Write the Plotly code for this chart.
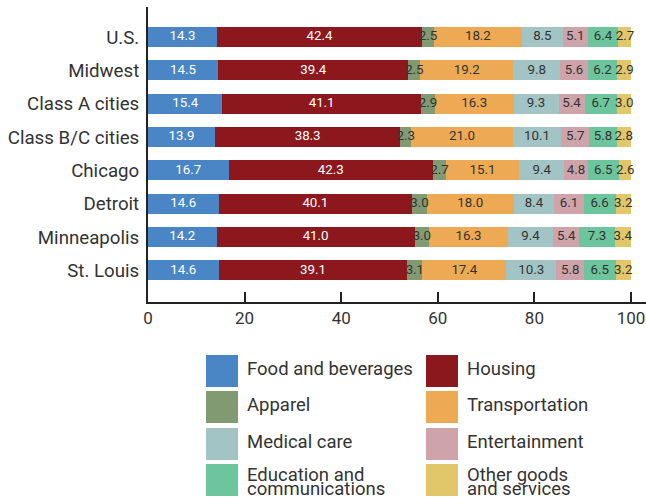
import plotly.graph_objects as go

regions = ["U.S.", "Midwest", "Class A cities", "Class B/C cities",
           "Chicago", "Detroit", "Minneapolis", "St. Louis"]

series_names = ["Food and beverages", "Housing", "Apparel", "Transportation",
                "Medical care", "Entertainment", "Education and\ncommunications",
                "Other goods\nand services"]

food = [14.3, 14.5, 15.4, 13.9, 16.7, 14.6, 14.2, 14.6]
housing = [42.4, 39.4, 41.1, 38.3, 42.3, 40.1, 41.0, 39.1]
apparel = [2.5, 2.5, 2.9, 2.3, 2.7, 3.0, 3.0, 3.1]
transportation = [18.2, 19.2, 16.3, 21.0, 15.1, 18.0, 16.3, 17.4]
medical = [8.5, 9.8, 9.3, 10.1, 9.4, 8.4, 9.4, 10.3]
entertainment = [5.1, 5.6, 5.4, 5.7, 4.8, 6.1, 5.4, 5.8]
education = [6.4, 6.2, 6.7, 5.8, 6.5, 6.6, 7.3, 6.5]
other = [2.7, 2.9, 3.0, 2.8, 2.6, 3.2, 3.4, 3.2]

series_values = [food, housing, apparel, transportation, medical,
                 entertainment, education, other]

x_ticks = [0, 20, 40, 60, 80, 100]

colors = ["#4A85C5", "#8C181D", "#819A72", "#EEA954",
          "#A2C4C5", "#CEA3AA", "#6CC59C", "#E2C76A"]
text_colors = ["white", "white", "#333333", "#333333",
               "#333333", "#333333", "#333333", "#333333"]

FONT = "Roboto"
W, H = 646, 500
ML, MT, PB = 148, 7, 302  # left margin, top margin, plot bottom pixel
PW = W - ML
PH = PB - MT

fig = go.Figure()
# stacked bars
for name, vals, col in zip(series_names, series_values, colors):
    fig.add_trace(go.Bar(
        y=regions, x=vals, orientation="h", name=name.replace("\n", " "),
        marker=dict(color=col, line=dict(width=0)),
        width=0.6, showlegend=False, hoverinfo="skip",
    ))

# value labels centred on each segment, drawn above all bars
base = [0.0] * len(regions)
for vals, tcol in zip(series_values, text_colors):
    mids = [b + v / 2 for b, v in zip(base, vals)]
    fig.add_trace(go.Scatter(
        y=regions, x=mids, mode="text",
        text=[f"{v:.1f}" for v in vals], textposition="middle center",
        textfont=dict(family=FONT, size=13.3, color=tcol),
        showlegend=False, hoverinfo="skip", cliponaxis=False,
    ))
    base = [b + v for b, v in zip(base, vals)]

def px_x(p):
    return (p - ML) / PW

def px_y(p):
    return (PB - p) / PH

shapes = []
annotations = []
col_x = [206, 426]
row_y = [355, 391, 428, 464]
sw = 32
for i, (name, col) in enumerate(zip(series_names, colors)):
    c = i % 2
    r = i // 2
    x0 = col_x[c]
    y0 = row_y[r]
    shapes.append(dict(type="rect", xref="paper", yref="paper",
                       x0=px_x(x0), x1=px_x(x0 + sw),
                       y0=px_y(y0 + sw), y1=px_y(y0),
                       fillcolor=col, line=dict(width=0), layer="above"))
    lines = name.split("\n")
    if len(lines) == 1:
        ys = [y0 + sw / 2 - 2]
    else:
        ys = [y0 + 11, y0 + 24.5]
    for line, yy in zip(lines, ys):
        annotations.append(dict(xref="paper", yref="paper",
                                x=px_x(x0 + sw + 7), y=px_y(yy),
                                xanchor="left", yanchor="middle",
                                text=line, showarrow=False, align="left",
                                font=dict(family=FONT, size=18.5, color="#333333")))

fig.update_layout(
    barmode="stack",
    width=W, height=H,
    margin=dict(l=ML, r=0, t=MT, b=H - PB, pad=0),
    paper_bgcolor="white", plot_bgcolor="white",
    font=dict(family=FONT, color="#333333"),
    xaxis=dict(range=[0, PW / 4.83], tickvals=x_ticks,
               ticktext=[str(t) for t in x_ticks],
               showgrid=False, zeroline=False,
               showline=True, linecolor="#222222", linewidth=2,
               ticks="inside", ticklen=10, tickwidth=2, tickcolor="#222222",
               tickfont=dict(family=FONT, size=17, color="#333333")),
    yaxis=dict(categoryorder="array", categoryarray=regions,
               range=[7.95, -0.9], showgrid=False, zeroline=False,
               showline=True, linecolor="#222222", linewidth=2,
               ticks="", ticklabelstandoff=3,
               tickfont=dict(family=FONT, size=18.7, color="#333333")),
    shapes=shapes,
    annotations=annotations,
)

fig.write_html("out.html")
